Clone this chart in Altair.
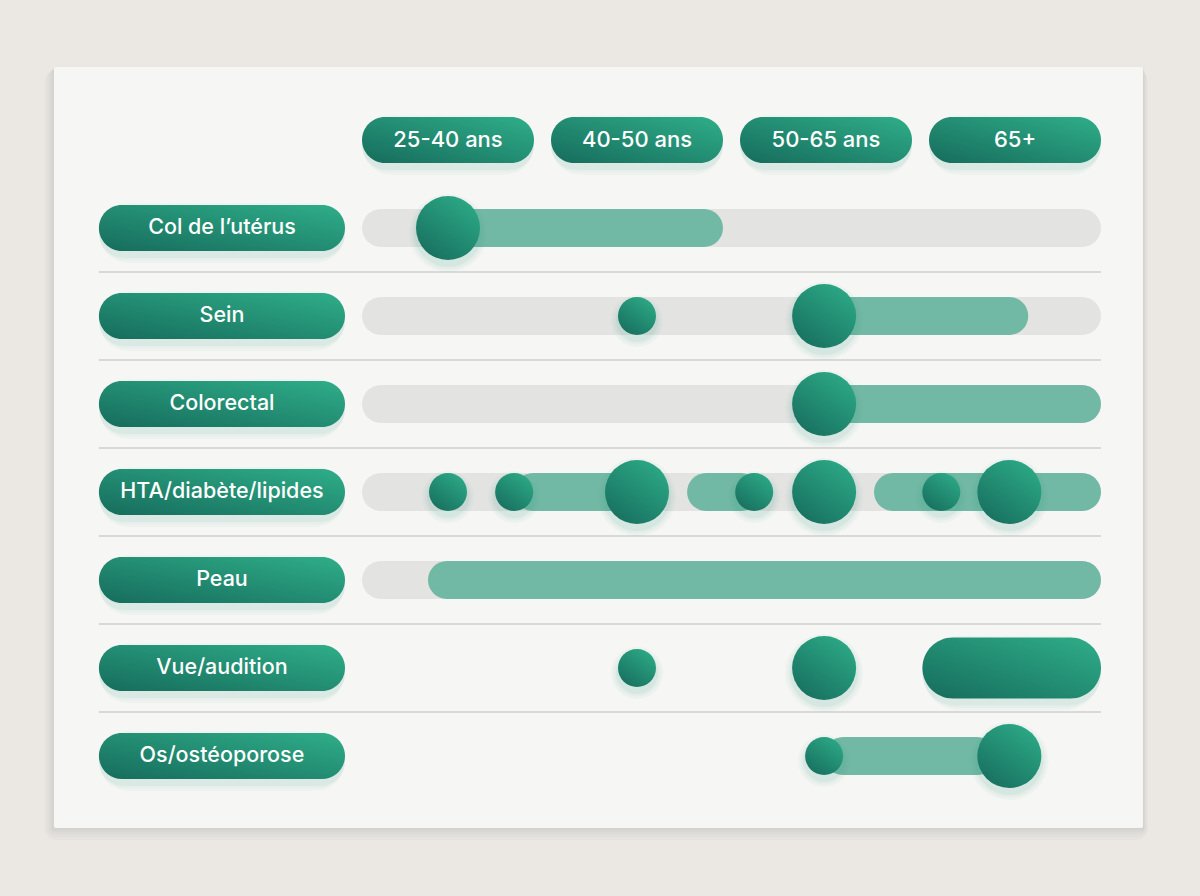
import altair as alt
import pandas as pd

# ---------------- data ----------------
screenings = ["Col de l’utérus", "Sein", "Colorectal", "HTA/diabète/lipides",
              "Peau", "Vue/audition", "Os/ostéoporose"]
age_groups = ["25-40 ans", "40-50 ans", "50-65 ans", "65+"]
# column position units: 0 = 25-40, 1 = 40-50, 2 = 50-65, 3 = 65+
track_rows = [0, 1, 2, 3, 4]
bar_rows = [0, 1, 2, 3, 3, 3, 4, 6]
bar_start = [0.0, 1.99, 1.99, 0.35, 1.265, 2.254, -0.106, 1.99]
bar_end = [1.455, 3.07, 3.455, 1.0, 1.65, 3.455, 3.455, 2.9]
solid_rows = [5]
solid_start = [2.51]
solid_end = [3.455]
big_rows = [0, 1, 2, 3, 3, 3, 5, 6]
big_pos = [0.0, 1.99, 1.99, 1.0, 1.99, 2.97, 1.99, 2.97]
small_rows = [1, 3, 3, 3, 3, 5, 6]
small_pos = [1.0, 0.0, 0.35, 1.62, 2.61, 1.0, 1.99]

# ---------------- layout constants ----------------
TRACK_L, TRACK_R = -0.455, 3.455
LABEL_L, LABEL_R = -1.847, -0.545
XMIN, XMAX = (54 - 448) / 189, (1143 - 448) / 189
YMIN, YMAX = (67 - 228) / 88, (828 - 228) / 88

X = lambda f: alt.X(f, type="quantitative",
                    scale=alt.Scale(domain=[XMIN, XMAX], nice=False, zero=False, padding=0),
                    axis=None)
X2 = lambda f: alt.X2(f)
Y = lambda f: alt.Y(f, type="quantitative",
                    scale=alt.Scale(domain=[YMIN, YMAX], nice=False, zero=False,
                                    reverse=True, padding=0),
                    axis=None)

dark_grad = alt.Gradient(gradient="linear",
                         stops=[alt.GradientStop(color="#166c5c", offset=0),
                                alt.GradientStop(color="#2fae89", offset=1)],
                         x1=0, y1=1, x2=1, y2=0)
circ_grad = alt.Gradient(gradient="linear",
                         stops=[alt.GradientStop(color="#176e5e", offset=0),
                                alt.GradientStop(color="#2dab87", offset=1)],
                         x1=0.15, y1=1, x2=0.85, y2=0)

tracks = pd.DataFrame({"r": track_rows, "a": TRACK_L, "b": TRACK_R})
bars = pd.DataFrame({"r": bar_rows, "a": bar_start, "b": bar_end})
solids = pd.DataFrame({"r": solid_rows, "a": solid_start, "b": solid_end})
bigs = pd.DataFrame({"r": big_rows, "v": big_pos})
smalls = pd.DataFrame({"r": small_rows, "v": small_pos})
labels = pd.DataFrame({"r": list(range(len(screenings))), "t": screenings,
                       "a": LABEL_L, "b": LABEL_R, "c": (LABEL_L + LABEL_R) / 2})
headers = pd.DataFrame({"r": -1, "t": age_groups, "c": list(range(len(age_groups)))})
headers["a"] = headers["c"] - 0.455
headers["b"] = headers["c"] + 0.455
seps = pd.DataFrame({"r": [i + 0.5 for i in range(len(screenings) - 1)],
                     "a": LABEL_L, "b": TRACK_R})

base_empty = pd.DataFrame({"k": [0]})

# soft card shadow + card
shadow_layers = []
for g in [12, 9, 6, 4, 2]:
    shadow_layers.append(
        alt.Chart(base_empty).mark_rect(color="#7d7367", opacity=0.035, cornerRadius=g).encode(
            x=alt.value(-g * 0.8), x2=alt.value(1089 + g * 0.4),
            y=alt.value(g * 0.3), y2=alt.value(761 + g)))
card = alt.Chart(base_empty).mark_rect(color="#f6f6f4", cornerRadius=2).encode(
    x=alt.value(0), x2=alt.value(1089), y=alt.value(0), y2=alt.value(761))


def pill(df, size, color, opacity=1.0, yoff=0, extra=0):
    s = size + extra
    return alt.Chart(df).mark_bar(size=s, cornerRadius=s / 2,
                                  color=color, opacity=opacity, yOffset=yoff,
                                  orient="horizontal").encode(
        x=X("a"), x2=X2("b"), y=Y("r"))


def dots(df, diam, color, opacity=1.0, yoff=0, extra=0):
    return alt.Chart(df).mark_circle(size=(diam + extra) ** 2, color=color,
                                     opacity=opacity, yOffset=yoff).encode(
        x=X("v"), y=Y("r"))


glow = "#2f9e80"
layers = shadow_layers + [card]
layers.append(alt.Chart(seps).mark_rule(color="#cfcfcf", strokeWidth=1.5).encode(
    x=X("a"), x2=X2("b"), y=Y("r")))


def glow_pill(df, size):
    out = []
    for extra, op in [(14, 0.035), (9, 0.045), (4, 0.06)]:
        out.append(pill(df, size, glow, op, 5, extra))
    return out


def glow_dots(df, diam):
    out = []
    for extra, op in [(14, 0.04), (9, 0.05), (4, 0.07)]:
        out.append(dots(df, diam, glow, op, 5, extra))
    return out


# header & label pills with glow
for df in (headers, labels):
    layers += glow_pill(df, 46)
    layers.append(pill(df, 46, dark_grad))
layers.append(alt.Chart(headers).mark_text(font="Inter", fontSize=22, color="white",
                                           fontWeight=500).encode(x=X("c"), y=Y("r"), text="t:N"))
layers.append(alt.Chart(labels).mark_text(font="Inter", fontSize=21.5, color="white",
                                          fontWeight=500).encode(x=X("c"), y=Y("r"), text="t:N"))

layers.append(pill(tracks, 38, "#e3e3e2"))
layers.append(pill(bars, 38, "#72b9a5"))
layers += glow_pill(solids, 61)
layers.append(pill(solids, 61, dark_grad))
layers += glow_dots(smalls, 38)
layers.append(dots(smalls, 38, circ_grad))
layers += glow_dots(bigs, 64)
layers.append(dots(bigs, 64, circ_grad))

chart = alt.layer(*layers).properties(
    width=1089, height=761,
    padding={"left": 54, "top": 67, "right": 57, "bottom": 68},
    autosize="none", background="#ebe8e4",
).configure_view(stroke=None)

chart.save("out.html", embed_options={"renderer": "svg", "actions": False})
